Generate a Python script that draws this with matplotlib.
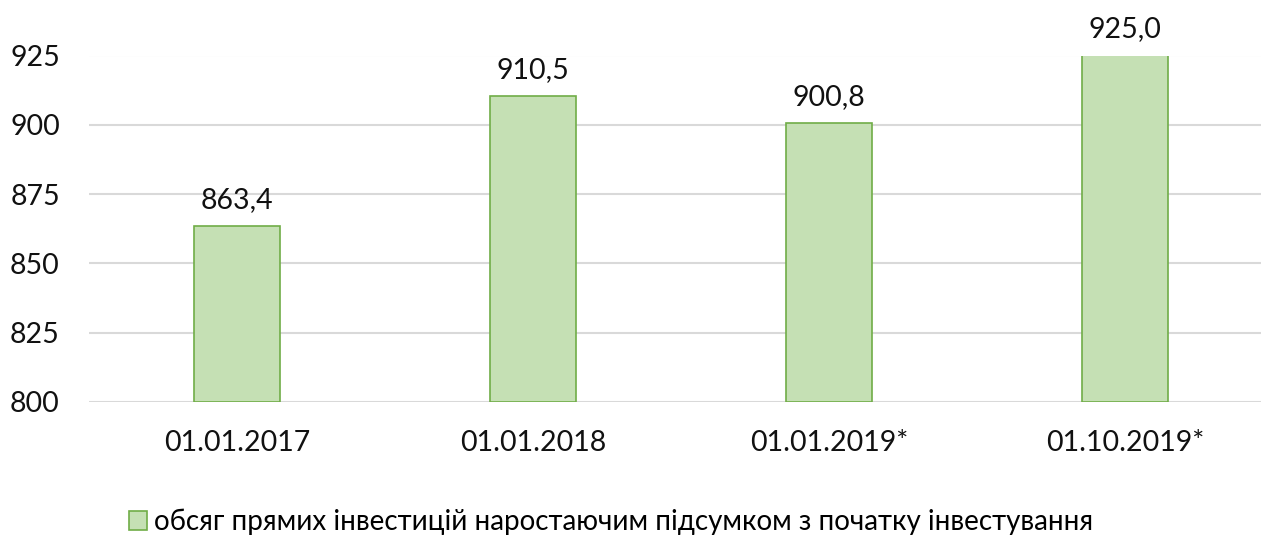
import matplotlib.pyplot as plt
from matplotlib.patches import Patch

categories = ['01.01.2017', '01.01.2018', '01.01.2019*', '01.10.2019*']
values = [863.4, 910.5, 900.8, 925.0]
yticks = [800, 825, 850, 875, 900, 925]
legend_label = 'обсяг прямих інвестицій наростаючим підсумком з початку інвестування'

plt.rcParams['font.family'] = ['Lato', 'DejaVu Sans']

W, H = 1261, 536
fig = plt.figure(figsize=(W / 100, H / 100), dpi=100)
ax = fig.add_axes([89 / W, 1 - 402 / H, 1184 / W, (402 - 55.5) / H])

x = range(len(categories))
bars = ax.bar(x, [v - 800 for v in values], bottom=800, width=0.29,
              color='#C5E0B4', edgecolor='#70AD47', linewidth=1.2, zorder=3)

for i, v in zip(x, values):
    ax.text(i, v + 6.5, f'{v:.1f}'.replace('.', ','), ha='center', va='baseline',
            fontsize=20.5, color='#111111', clip_on=False)

ax.set_xlim(-0.5, len(categories) - 0.5)
ax.set_ylim(800, 925)
ax.set_yticks(yticks)
ax.set_yticklabels([str(t) for t in yticks], fontsize=20.5, color='#111111')
ax.set_xticks(list(x))
ax.set_xticklabels(categories, fontsize=20.5, color='#111111')
ax.tick_params(length=0)
ax.tick_params(axis='y', pad=21)
ax.tick_params(axis='x', pad=20)
ax.grid(axis='y', color='#D9D9D9', linewidth=1.5, zorder=0)
for s in ax.spines.values():
    s.set_visible(False)

handle = Patch(facecolor='#C5E0B4', edgecolor='#70AD47', linewidth=1.2)
fig.legend([handle], [legend_label], loc='center', bbox_to_anchor=(611 / W, 1 - 522 / H),
           frameon=False, fontsize=20, handlelength=0.65, handleheight=0.65,
           handletextpad=0.22)

fig.savefig('out.png', dpi=100)
